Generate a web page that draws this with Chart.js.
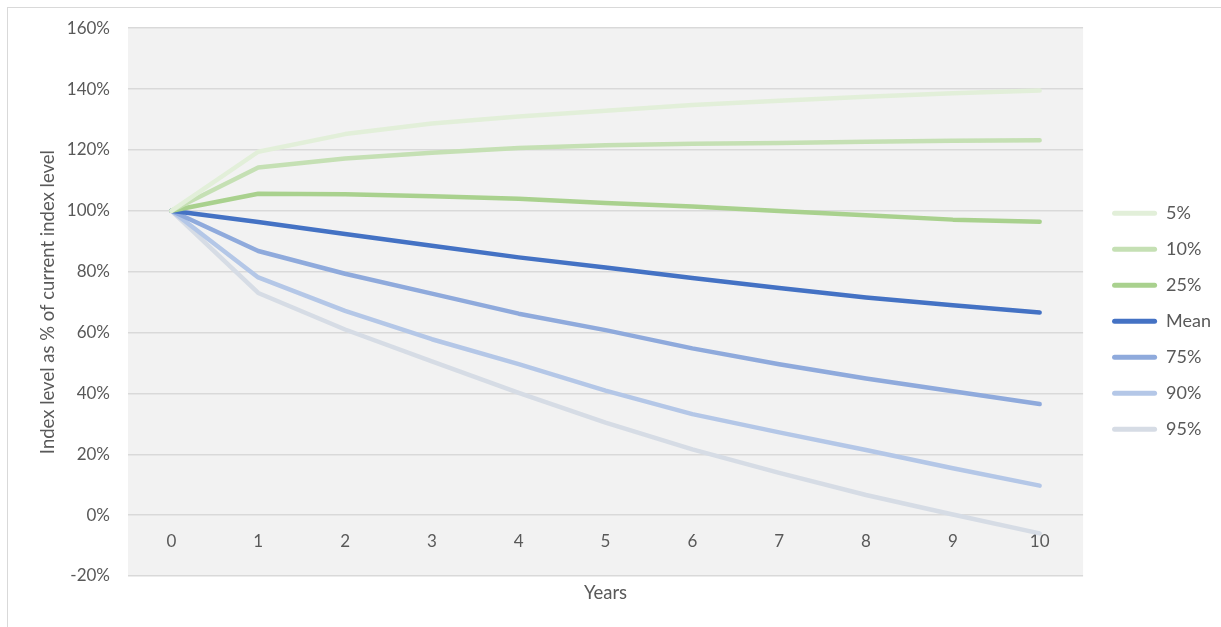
<!DOCTYPE html>
<html>
<head>
<meta charset="utf-8">
<script src="https://cdn.jsdelivr.net/npm/chart.js@4.4.0/dist/chart.umd.min.js"></script>
<style>
  html, body { margin: 0; padding: 0; background: #ffffff; }
  #wrap { position: relative; width: 1221px; height: 627px; overflow: hidden; }
  #frame { position: absolute; left: 7px; top: 7px; right: 0; bottom: 0;
           border-left: 1px solid #d9d9d9; border-top: 1px solid #d9d9d9; pointer-events: none; }
</style>
</head>
<body>
<div id="wrap">
  <canvas id="chart" width="1221" height="627"></canvas>
  <div id="frame"></div>
</div>
<script>
// Projection horizon (years)
const years = ['0', '1', '2', '3', '4', '5', '6', '7', '8', '9', '10'];

// Percentile paths of the index level, % of current level
const p5   = [100, 119.4, 125.2, 128.7, 131.0, 132.9, 134.8, 136.2, 137.5, 138.6, 139.5];
const p10  = [100, 114.2, 117.2, 119.1, 120.6, 121.5, 122.0, 122.3, 122.7, 123.0, 123.2];
const p25  = [100, 105.6, 105.4, 104.8, 104.0, 102.6, 101.4, 99.9, 98.5, 97.1, 96.4];
const mean = [100, 96.3, 92.4, 88.5, 84.7, 81.4, 77.9, 74.6, 71.5, 69.0, 66.6];
const p75  = [100, 86.8, 79.3, 72.8, 66.2, 60.8, 54.8, 49.6, 44.9, 40.7, 36.5];
const p90  = [100, 78.1, 67.1, 57.8, 49.6, 40.9, 33.2, 27.2, 21.4, 15.4, 9.7];
const p95  = [100, 73.0, 61.0, 50.5, 40.2, 30.4, 21.6, 13.9, 6.6, 0.2, -6.0];

const seriesNames  = ['5%', '10%', '25%', 'Mean', '75%', '90%', '95%'];
const seriesValues = [p5, p10, p25, mean, p75, p90, p95];
const seriesColors = ['#e2efd9', '#c5e0b4', '#a9d18e', '#4472c4', '#8faadc', '#b4c7e7', '#d6dce5'];

// Value axis range
const yMin = -20, yMax = 160, yStep = 20;

const FONT = 'Lato, "Open Sans", sans-serif';
const TEXT = '#595959';

const datasets = seriesNames.map((name, i) => ({
  label: name,
  data: seriesValues[i],
  borderColor: seriesColors[i],
  backgroundColor: seriesColors[i],
  borderWidth: 4.5,
  borderCapStyle: 'round',
  borderJoinStyle: 'round',
  pointRadius: 0,
  pointHoverRadius: 0,
  tension: 0,
  fill: false
}));

// Grey plot-area background
const plotBackground = {
  id: 'plotBackground',
  beforeDraw(chart) {
    const { ctx, chartArea: a } = chart;
    ctx.save();
    ctx.fillStyle = '#f2f2f2';
    ctx.fillRect(a.left, a.top, a.right - a.left, a.bottom - a.top);
    ctx.restore();
  }
};

new Chart(document.getElementById('chart'), {
  type: 'line',
  data: { labels: years, datasets },
  plugins: [plotBackground],
  options: {
    responsive: false,
    animation: false,
    layout: { padding: { top: 21.5, right: 0, bottom: 6, left: 0 } },
    plugins: {
      tooltip: { enabled: false },
      legend: {
        position: 'right',
        labels: {
          color: TEXT,
          font: { family: FONT, size: 18 },
          boxWidth: 45,
          boxHeight: 5,
          padding: 18,
          useBorderRadius: true,
          borderRadius: 2.5,
          generateLabels(chart) {
            return Chart.defaults.plugins.legend.labels.generateLabels(chart).map(item => {
              item.lineWidth = 0;
              item.fillStyle = seriesColors[item.datasetIndex];
              return item;
            });
          }
        }
      }
    },
    scales: {
      x: {
        type: 'category',
        offset: true,
        position: { y: 0 },
        grid: { display: false, drawTicks: false },
        border: { display: false },
        ticks: { color: TEXT, font: { family: FONT, size: 17 }, padding: 16, maxRotation: 0 }
      },
      xTitle: {
        type: 'category',
        axis: 'x',
        position: 'bottom',
        offset: true,
        grid: { display: false, drawTicks: false },
        border: { display: false },
        ticks: { display: false },
        title: { display: true, text: 'Years', color: TEXT, font: { family: FONT, size: 18.5 }, padding: { top: 0, bottom: 17 } },
        afterFit(scale) { scale.height = 45; }
      },
      y: {
        min: yMin,
        max: yMax,
        grid: { color: '#d9d9d9', lineWidth: 1.5, drawTicks: false },
        border: { display: false },
        ticks: {
          stepSize: yStep,
          color: TEXT,
          font: { family: FONT, size: 17 },
          padding: 18,
          callback: v => v + '%'
        },
        title: {
          display: true,
          text: 'Index level as % of current index level',
          color: TEXT,
          font: { family: FONT, size: 18.5 },
          padding: { top: 37, bottom: 0 }
        },
        afterFit(scale) { scale.width = 128; }
      },
      gap: {
        position: 'right',
        display: true,
        grid: { display: false, drawTicks: false },
        border: { display: false },
        ticks: { display: false },
        afterFit(scale) { scale.width = 11; }
      }
    }
  }
});
</script>
</body>
</html>
